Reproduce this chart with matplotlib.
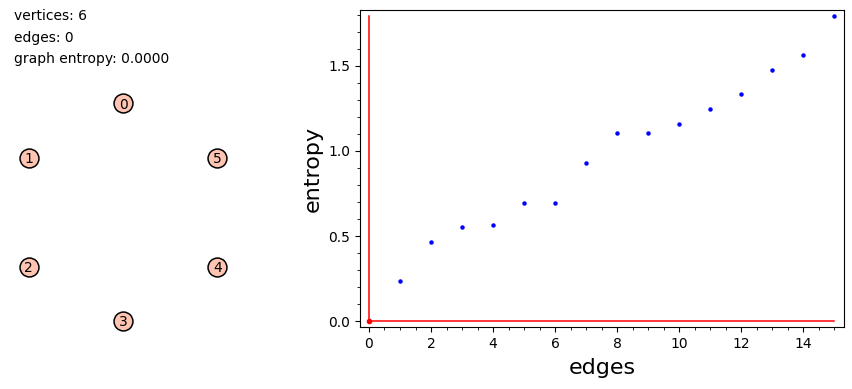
import numpy as np
import matplotlib
matplotlib.use('Agg')
import matplotlib.pyplot as plt
from matplotlib.ticker import AutoMinorLocator

# graph info
n_vertices = 6
n_edges = 0
graph_entropy = 0.0
node_labels = ['0', '1', '2', '3', '4', '5']

# entropy vs. number of edges
edges = [0, 1, 2, 3, 4, 5, 6, 7, 8, 9, 10, 11, 12, 13, 14, 15]
entropy = [0.0, 0.235, 0.466, 0.553, 0.565, 0.695, 0.695, 0.928, 1.103, 1.103,
           1.159, 1.245, 1.333, 1.476, 1.564, 1.792]

fig = plt.figure(figsize=(8.53, 3.89), dpi=100)

# left: text + graph drawing (axes in pixel units)
axg = fig.add_axes([0, 0, 246 / 853, 1])
axg.set_xlim(0, 246)
axg.set_ylim(389, 0)
axg.axis('off')

axg.text(14, 16, 'vertices: %d' % n_vertices, fontsize=10, va='center')
axg.text(14, 38, 'edges: %d' % n_edges, fontsize=10, va='center')
axg.text(14, 59, 'graph entropy: %.4f' % graph_entropy, fontsize=10, va='center')

# circular layout, node 0 on top, counter-clockwise
cx, cy, r = 123, 212, 109
ang = np.pi / 2 + 2 * np.pi * np.arange(n_vertices) / n_vertices
px = cx + r * np.cos(ang)
py = cy - r * np.sin(ang)
axg.scatter(px, py, s=185, facecolor='#ffc4b2', edgecolor='black', linewidth=1.1, zorder=2)
for lab, x, y in zip(node_labels, px, py):
    axg.text(x, y, lab, fontsize=10, ha='center', va='center_baseline', zorder=3)

# right: entropy plot
ax = fig.add_axes([360 / 853, 1 - 327 / 389, 484 / 853, 317 / 389])
ax.plot([0, 0], [0, max(entropy)], color='red', linewidth=1.1)
ax.plot([0, max(edges)], [0, 0], color='red', linewidth=1.1)
ax.plot(edges[1:], entropy[1:], 'o', color='blue', markersize=2.2, linestyle='none')
ax.plot(edges[0], entropy[0], 'o', color='red', markersize=3)

ax.set_xlim(-0.29, 15.32)
ax.set_ylim(-0.035, 1.829)
ax.set_xticks([0, 2, 4, 6, 8, 10, 12, 14])
ax.set_yticks([0.0, 0.5, 1.0, 1.5])
ax.xaxis.set_minor_locator(AutoMinorLocator(4))
ax.yaxis.set_minor_locator(AutoMinorLocator(5))
ax.tick_params(labelsize=10)
ax.set_xlabel('edges', fontsize=16, labelpad=5)
ax.set_ylabel('entropy', fontsize=16)

plt.savefig('out.png', dpi=100)
